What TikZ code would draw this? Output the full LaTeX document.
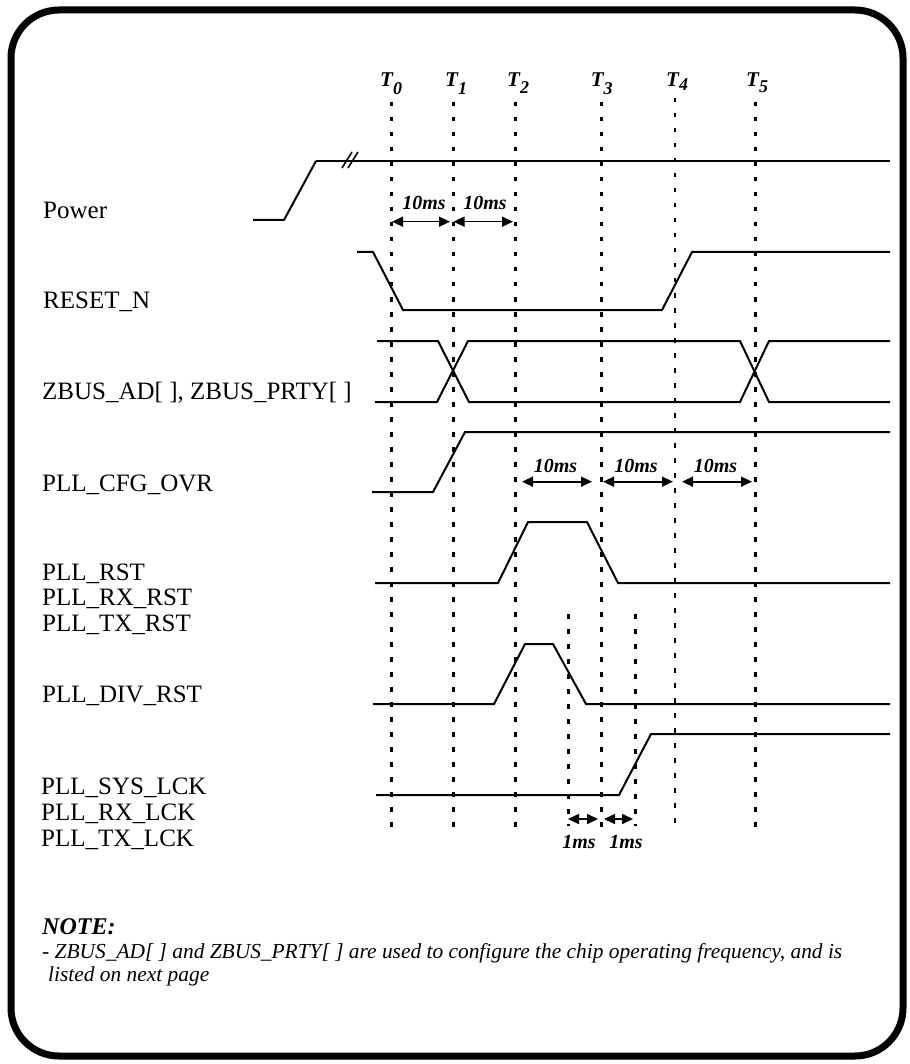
\documentclass[tikz,border=0pt]{standalone}
\usepackage{fontspec}
\setmainfont{Liberation Serif}
\usetikzlibrary{arrows.meta,positioning}

\begin{document}
\begin{tikzpicture}[
    x=1pt, y=-1pt,
    sig/.style={line width=2pt},
    tline/.style={line width=2.6pt, dash pattern=on 4.5pt off 10.5pt},
    dim/.style={line width=1.6pt, {Triangle[length=11pt,width=10pt]}-{Triangle[length=11pt,width=10pt]}},
    lbl/.style={anchor=base west, inner sep=0pt, font=\fontsize{25}{26}\selectfont},
    tlbl/.style={anchor=base west, inner sep=0pt, font=\fontsize{21}{21}\selectfont\bfseries\itshape},
    ms/.style={anchor=base, inner sep=0pt, font=\fontsize{20}{20}\selectfont\bfseries\itshape},
    note/.style={anchor=base west, inner sep=0pt, font=\fontsize{21.4}{21}\selectfont\itshape}
]
\useasboundingbox (0,0) rectangle (909,1064);

% frame
\draw[line width=7pt, rounded corners=48pt] (11,10) rectangle (903,1056);

% time marks
\foreach \x/\n/\xl/\d/\top in {391.7/0/380/7.5/102, 453.3/1/445/7.5/102, 515.7/2/507/6.5/102,
                          601.7/3/590.7/7.5/102, 675/4/666/4/98, 755.7/5/746/6/102} {
  \node[tlbl] (T\n) at (\xl,87) {T\raisebox{-\d pt}{\fontsize{18}{18}\selectfont\n}};
  \draw[tline] (\x,\top) -- (\x,830);
}
\draw[tline] (568.3,614) -- (568.3,826);
\draw[tline] (635.7,614) -- (635.7,826);

% signal names
\node[lbl] (power) at (43,219) {Power};
\node[lbl] (resetn) at (43,308) {RESET\_N};
\node[lbl] (zbus) at (42,399) {ZBUS\_AD[ ], ZBUS\_PRTY[ ]};
\node[lbl] (cfgovr) at (42,491) {PLL\_CFG\_OVR};
\node[lbl] (pllrst) at (42,580) {PLL\_RST};
\node[lbl] (rxrst) at (42,605.5) {PLL\_RX\_RST};
\node[lbl] (txrst) at (42,631) {PLL\_TX\_RST};
\node[lbl] (divrst) at (42,702) {PLL\_DIV\_RST};
\node[lbl] (syslck) at (41,794.5) {PLL\_SYS\_LCK};
\node[lbl] (rxlck) at (41,820) {PLL\_RX\_LCK};
\node[lbl] (txlck) at (41,846) {PLL\_TX\_LCK};

% waveforms
\draw[sig] (253,220) -- (284,220) -- (316,161);
\draw[line width=2.8pt] (316,161) -- (890,161);
\draw[line width=1.6pt] (342,168) -- (352,152) (348,168) -- (358,152);
\draw[sig] (357,252) -- (373,252) -- (403,310) -- (662,310) -- (692,252) -- (890,252);
\draw[sig] (377,341) -- (438,341) -- (469,402) -- (740,402) -- (769,341) -- (890,341);
\draw[sig] (375,402) -- (437,402) -- (468,341) -- (740,341) -- (769,402) -- (890,402);
\draw[sig] (372,492) -- (433,492) -- (465,432) -- (890,432);
\draw[sig] (375,583) -- (498,583) -- (528,522) -- (587,522) -- (618,583) -- (890,583);
\draw[sig] (373,704) -- (494,704) -- (525,644) -- (553,644) -- (586,704) -- (890,704);
\draw[sig] (376,795) -- (619,795) -- (651,734) -- (890,734);

% delays
\draw[dim] (392,221.7) -- (450,221.7);
\draw[dim] (453.5,221.7) -- (513,221.7);
\node[ms] (d1) at (424,209.3) {10ms};
\node[ms] (d2) at (485,209.3) {10ms};

\draw[dim] (522,481.7) -- (592,481.7);
\draw[dim] (603,481.7) -- (673,481.7);
\draw[dim] (682,481.7) -- (752,481.7);
\node[ms] (d3) at (555.5,472.7) {10ms};
\node[ms] (d4) at (636,472.7) {10ms};
\node[ms] (d5) at (715.5,472.7) {10ms};

\draw[dim] (568,819) -- (598,819);
\draw[dim] (604,819) -- (633,819);
\node[ms] (d6) at (579,848.3) {1ms};
\node[ms] (d7) at (626,848.3) {1ms};

% note
\node[anchor=base west, inner sep=0pt, font=\fontsize{24}{24}\selectfont\bfseries\itshape] (notehead) at (42,934) {NOTE:};
\node[note] (note1) at (42,958) {- ZBUS\_AD[ ] and ZBUS\_PRTY[ ] are used to configure the chip operating frequency, and is};
\node[note] (note2) at (48,981) {listed on next page};

\end{tikzpicture}
\end{document}
